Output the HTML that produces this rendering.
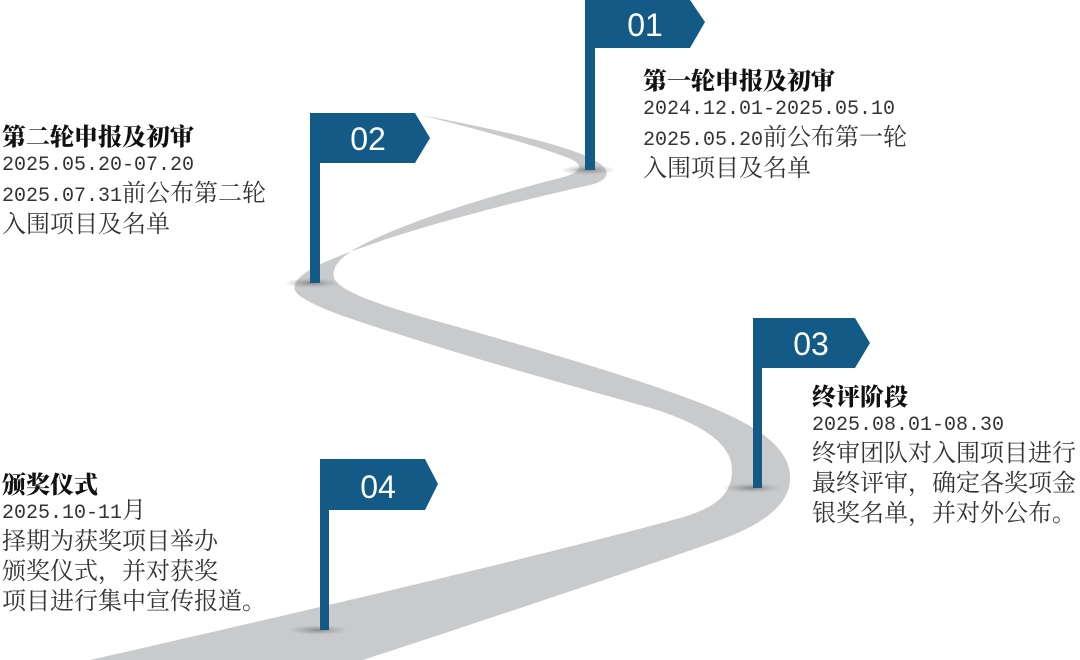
<!DOCTYPE html>
<html><head><meta charset="utf-8"><style>
html,body{margin:0;padding:0;background:#fff;}
body{width:1080px;height:660px;position:relative;overflow:hidden;}
.t{position:absolute;font-family:"Liberation Mono","Noto Serif CJK SC","WenQuanYi Zen Hei",serif;font-size:24px;color:#333;line-height:30px;white-space:nowrap;}
.t i{font-style:normal;font-size:20px;}
.t b{display:block;font-family:"Noto Serif CJK SC","WenQuanYi Zen Hei",serif;font-weight:900;font-size:24px;color:#111;}
</style></head><body>
<svg width="1080" height="660" style="position:absolute;left:0;top:0">
<defs>
<radialGradient id="sh" cx="0.5" cy="0.5" r="0.5"><stop offset="0" stop-color="#777" stop-opacity=".8"/><stop offset="1" stop-color="#999" stop-opacity="0"/></radialGradient>
</defs>
<path fill="#c9cacc" d="M420,115 C480,126 560,143 590,158 C612,168 612,180 590,185 C540,196 420,225 350,252 C300,270 285,285 300,296 C320,310 360,322 420,341 C480,360 540,377 640,405 C705,423 732,445 732,470 C732,495 715,508 680,518 C600,540 420,585 90,660 L363,660 C470,625 620,575 720,540 C770,522 792,500 790,475 C788,450 765,430 713,408 C650,382 540,350 440,322 C380,305 340,292 334,278 C330,262 350,248 400,228 C450,208 520,188 560,178 C585,172 585,163 563,156 C530,144 470,127 420,115 Z"/>
<ellipse cx="588" cy="170" rx="28" ry="5" fill="url(#sh)"/>
<ellipse cx="312" cy="283" rx="28" ry="5" fill="url(#sh)"/>
<ellipse cx="752" cy="488" rx="30" ry="5" fill="url(#sh)"/>
<ellipse cx="318" cy="630" rx="30" ry="5" fill="url(#sh)"/>
<g fill="#135b86">
<rect x="585" y="0" width="10" height="170"/><path d="M585,0 H690 L705,22 L690,48 H585 Z"/>
<rect x="310" y="113" width="10" height="170"/><path d="M310,113 H415 L430,138 L415,163 H310 Z"/>
<rect x="753" y="318" width="9" height="170"/><path d="M753,318 H855 L870,343 L855,368 H753 Z"/>
<rect x="320" y="459" width="9" height="171"/><path d="M320,459 H425 L438,484 L425,510 H320 Z"/>
</g>
<g fill="#fff" font-family="Liberation Sans, sans-serif" font-size="32" text-anchor="middle">
<text x="645" y="36">01</text>
<text x="368" y="150">02</text>
<text x="811" y="355">03</text>
<text x="378" y="498">04</text>
</g>
</svg>
<div class="t" style="left:643px;top:64px"><b>第一轮申报及初审</b><i>2024.12.01-2025.05.10</i><br><i>2025.05.20</i>前公布第一轮<br>入围项目及名单</div>
<div class="t" style="left:2px;top:120px"><b>第二轮申报及初审</b><i>2025.05.20-07.20</i><br><i>2025.07.31</i>前公布第二轮<br>入围项目及名单</div>
<div class="t" style="left:812px;top:380px"><b>终评阶段</b><i>2025.08.01-08.30</i><br>终审团队对入围项目进行<br>最终评审，确定各奖项金<br>银奖名单，并对外公布。</div>
<div class="t" style="left:2px;top:468px"><b>颁奖仪式</b><i>2025.10-11</i>月<br>择期为获奖项目举办<br>颁奖仪式，并对获奖<br>项目进行集中宣传报道。</div>
</body></html>
